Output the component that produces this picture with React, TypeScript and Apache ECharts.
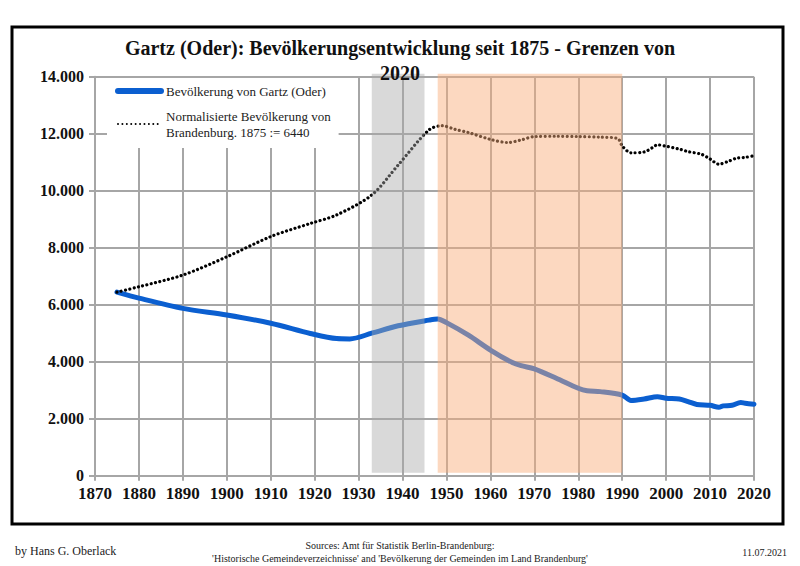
import React, { useEffect, useRef } from 'react';
import * as echarts from 'echarts';

const gartzYears = [1875, 1880, 1890, 1900, 1910, 1919, 1925, 1928, 1933, 1939, 1946, 1948, 1950, 1955, 1960, 1965, 1967, 1970, 1975, 1980, 1982, 1985, 1990, 1992, 1995, 1998, 2000, 2003, 2005, 2007, 2010, 2012, 2013, 2015, 2017, 2018, 2020];
const gartzValues = [6440, 6230, 5870, 5640, 5350, 4990, 4810, 4800, 5000, 5260, 5460, 5500, 5370, 4930, 4410, 3970, 3860, 3750, 3420, 3070, 2980, 2950, 2830, 2640, 2690, 2770, 2720, 2690, 2600, 2500, 2470, 2400, 2450, 2470, 2570, 2540, 2510];

const brbYears = [1875, 1880, 1890, 1900, 1910, 1919, 1925, 1933, 1939, 1946, 1949, 1952, 1955, 1960, 1964, 1967, 1970, 1975, 1980, 1985, 1989, 1990, 1992, 1995, 1997, 1998, 2000, 2003, 2005, 2008, 2010, 2012, 2014, 2016, 2018, 2020];
const brbValues = [6440, 6630, 7040, 7680, 8390, 8850, 9150, 9850, 10900, 12130, 12280, 12150, 12040, 11800, 11690, 11780, 11900, 11910, 11900, 11880, 11830, 11570, 11330, 11360, 11520, 11610, 11560, 11460, 11370, 11280, 11110, 10930, 11020, 11140, 11170, 11230];

const bandStart = [1933, 1948];
const bandEnd = [1945, 1990];

const yTickLabels = ['0', '2.000', '4.000', '6.000', '8.000', '10.000', '12.000', '14.000'];

const seriesGartz = 'Bevölkerung von Gartz (Oder)';
const seriesBrb = 'Normalisierte Bevölkerung von Brandenburg. 1875 := 6440';
const titleLine = 'Gartz (Oder): Bevölkerungsentwicklung seit 1875 - Grenzen von';
const titleYear = '2020';
const footerLeft = 'by Hans G. Oberlack';
const footerSources1 = 'Sources: Amt für Statistik Berlin-Brandenburg:';
const footerSources2 = "'Historische Gemeindeverzeichnisse' and 'Bevölkerung der Gemeinden im Land Brandenburg'";
const footerDate = '11.07.2021';

const FONT = 'Liberation Serif';
const GRID = '#a6a6a6';
const BAND_COLORS = ['rgba(168,168,168,0.44)', 'rgba(248,172,121,0.47)'];

export default function App() {
  const ref = useRef<HTMLDivElement>(null);

  useEffect(() => {
    document.body.style.margin = '0';
    const chart = echarts.init(ref.current!, null, { renderer: 'svg' });
    const gartzData = gartzYears.map((y, i) => [y, gartzValues[i]]);
    const brbData = brbYears.map((y, i) => [y, brbValues[i]]);
    const bandData = bandStart.map((s, i) => [s, bandEnd[i], i]);

    chart.setOption({
      animation: false,
      backgroundColor: '#ffffff',
      title: {
        text: titleLine + '\n' + titleYear,
        left: 395,
        top: 30,
        textAlign: 'center',
        z: 20,
        textStyle: {
          fontFamily: FONT,
          fontWeight: 'bold',
          fontSize: 20,
          lineHeight: 25,
          color: '#111',
        },
      },
      grid: { left: 95, right: 46, top: 76.7, bottom: 90.3 },
      xAxis: {
        type: 'value',
        min: 1870,
        max: 2020,
        interval: 10,
        axisLine: { show: true, lineStyle: { color: GRID, width: 2 } },
        axisTick: { show: true, length: 5, lineStyle: { color: GRID, width: 2 } },
        splitLine: { show: true, lineStyle: { color: GRID, width: 2 } },
        axisLabel: {
          margin: 9,
          fontFamily: FONT,
          fontWeight: 'bold',
          fontSize: 17,
          color: '#111',
          formatter: (v: number) => String(v),
        },
      },
      yAxis: {
        type: 'value',
        min: 0,
        max: 14000,
        interval: 2000,
        axisLine: { show: true, lineStyle: { color: GRID, width: 2 } },
        axisTick: { show: true, length: 6, lineStyle: { color: GRID, width: 2 } },
        splitLine: { show: true, lineStyle: { color: GRID, width: 2 } },
        axisLabel: {
          margin: 11,
          fontFamily: FONT,
          fontWeight: 'bold',
          fontSize: 16,
          color: '#111',
          formatter: (v: number) => yTickLabels[Math.round(v / 2000)],
        },
      },
      legend: {
        left: 107,
        top: 78,
        orient: 'vertical',
        backgroundColor: '#ffffff',
        padding: [5, 8, 0, 8],
        itemWidth: 43,
        itemHeight: 14,
        itemGap: 1,
        selectedMode: false,
        itemStyle: { opacity: 0 },
        data: [
          { name: seriesGartz, lineStyle: { width: 6 } },
          { name: seriesBrb, textStyle: { padding: [16, 0, 0, 0], lineHeight: 16 } },
        ],
        formatter: (name: string) =>
          name === seriesBrb ? 'Normalisierte Bevölkerung von\nBrandenburg. 1875 := 6440' : name,
        textStyle: { fontFamily: FONT, fontSize: 13, color: '#222', lineHeight: 16 },
      },
      series: [
        {
          name: seriesGartz,
          type: 'line',
          data: gartzData,
          smooth: 0.3,
          symbol: 'none',
          z: 3,
          lineStyle: { color: '#0b5fd0', width: 5, cap: 'round', join: 'round' },
          itemStyle: { color: '#0b5fd0' },
        },
        {
          name: seriesBrb,
          type: 'line',
          data: brbData,
          smooth: 0.3,
          symbol: 'none',
          z: 3,
          lineStyle: { color: '#000', width: 3.2, type: [0.01, 4.4], cap: 'round' },
          itemStyle: { color: '#000' },
        },
        {
          name: 'bands',
          type: 'custom',
          z: 5,
          silent: true,
          data: bandData,
          encode: { x: [0, 1] },
          renderItem: (params: any, api: any) => {
            const p0 = api.coord([api.value(0), 14100]);
            const p1 = api.coord([api.value(1), 100]);
            return {
              type: 'rect',
              shape: { x: p0[0], y: p0[1], width: p1[0] - p0[0], height: p1[1] - p0[1] },
              style: { fill: BAND_COLORS[api.value(2)] },
            };
          },
        },
      ],
      graphic: [
        {
          type: 'rect',
          z: 30,
          silent: true,
          shape: { x: 12, y: 27, width: 771, height: 497 },
          style: { fill: 'none', stroke: '#000', lineWidth: 3 },
        },
        {
          type: 'text',
          left: 15,
          top: 545,
          style: { text: footerLeft, font: `12px "${FONT}"`, fill: '#222' },
        },
        {
          type: 'text',
          x: 400,
          y: 540,
          style: { text: footerSources1, font: `10px "${FONT}"`, fill: '#222', textAlign: 'center' },
        },
        {
          type: 'text',
          x: 400,
          y: 553,
          style: { text: footerSources2, font: `10px "${FONT}"`, fill: '#222', textAlign: 'center' },
        },
        {
          type: 'text',
          x: 787,
          y: 547,
          style: { text: footerDate, font: `10px "${FONT}"`, fill: '#222', textAlign: 'right' },
        },
      ],
    });
    return () => chart.dispose();
  }, []);

  return <div ref={ref} style={{ width: 800, height: 566 }} />;
}
